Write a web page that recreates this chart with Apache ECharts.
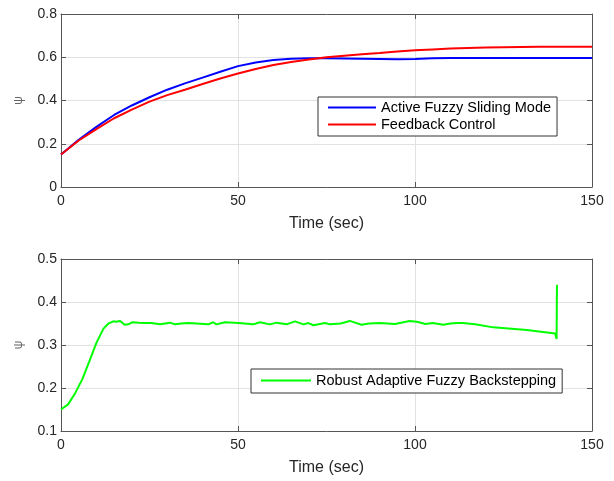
<!DOCTYPE html>
<html>
<head>
<meta charset="utf-8">
<script src="https://cdn.jsdelivr.net/npm/echarts@6/dist/echarts.min.js"></script>
<style>
html,body{margin:0;padding:0;background:#fff;}
#chart{width:614px;height:481px;}
</style>
</head>
<body>
<div id="chart"></div>
<script>
// ---- data ----
var tTop = [0,5,10,15,20,25,30,35,40,45,50,55,60,65,70,75,80,85,90,95,100,105,110,115,120,125,130,135,140,145,150];
var activeFuzzy = [0.150,0.218,0.278,0.333,0.377,0.415,0.450,0.479,0.506,0.533,0.559,0.576,0.587,0.593,0.595,0.595,0.594,0.593,0.592,0.591,0.592,0.595,0.596,0.596,0.596,0.596,0.597,0.597,0.597,0.597,0.597];
var feedback = [0.150,0.215,0.268,0.318,0.358,0.395,0.425,0.450,0.476,0.502,0.525,0.546,0.564,0.578,0.590,0.600,0.607,0.614,0.620,0.627,0.632,0.636,0.640,0.643,0.645,0.646,0.647,0.648,0.648,0.649,0.649];

var tGreen = [0,2,4,6,8,10,12,13.4,14.8,15.5,16.7,18,19,20.2,22,24,25.5,28,30.8,32.2,34,36,
  41.6,43.0,43.9,46.3,50.1,54.3,56.2,59.0,60.9,63.7,66.1,68.5,69.9,71.3,74.6,
  76,79,81.6,84.9,87,90,94.3,98.5,100.5,103,105,108,110,112,113.5,117,122.1,131.6,139.6,140.0,140.1];
var robustBackstep = [0.150,0.162,0.188,0.220,0.262,0.305,0.338,0.350,0.355,0.354,0.356,0.347,0.348,0.353,0.352,0.351,0.351,0.348,0.352,0.348,0.350,0.351,
  0.348,0.353,0.348,0.353,0.351,0.348,0.353,0.348,0.352,0.348,0.355,0.348,0.351,0.346,0.351,
  0.348,0.350,0.356,0.347,0.350,0.351,0.349,0.356,0.354,0.349,0.351,0.347,0.350,0.351,0.351,0.348,0.341,0.335,0.327,0.314,0.440];

var xTicks = [0,50,100,150];
var yTopTicks = [0,0.2,0.4,0.6,0.8];
var yBotTicks = [0.1,0.2,0.3,0.4,0.5];

function pairs(t, v){ return t.map(function(x,i){ return [x, v[i]]; }); }

var axisCol = '#555';
var txtCol = '#262626';
var font = 'Liberation Sans, Arial, sans-serif';

function mainX(gi){
  return {
    type:'value', gridIndex:gi, min:xTicks[0], max:xTicks[xTicks.length-1], interval:xTicks[1]-xTicks[0],
    axisLine:{show:true, onZero:false, lineStyle:{color:axisCol, width:1}},
    axisTick:{show:true, inside:true, length:5, lineStyle:{color:axisCol}},
    axisLabel:{color:txtCol, fontSize:14, fontFamily:font, margin:7},
    splitLine:{show:true, lineStyle:{color:'#e2e2e2', width:1}},
    name:'Time (sec)', nameLocation:'middle', nameGap:29,
    nameTextStyle:{color:txtCol, fontSize:16, fontFamily:font}
  };
}
function mirrorX(gi){
  return {
    type:'value', gridIndex:gi, position:'top', min:xTicks[0], max:xTicks[xTicks.length-1], interval:xTicks[1]-xTicks[0],
    axisLine:{show:true, onZero:false, lineStyle:{color:axisCol, width:1}},
    axisTick:{show:true, inside:true, length:5, lineStyle:{color:axisCol}},
    axisLabel:{show:false}, splitLine:{show:false}
  };
}
function mainY(gi, ticks){
  return {
    type:'value', gridIndex:gi, min:ticks[0], max:ticks[ticks.length-1], interval:Math.round((ticks[1]-ticks[0])*10)/10,
    axisLine:{show:true, onZero:false, lineStyle:{color:axisCol, width:1}},
    axisTick:{show:true, inside:true, length:5, lineStyle:{color:axisCol}},
    axisLabel:{color:txtCol, fontSize:14, fontFamily:font, margin:4,
      formatter:function(v){ return Math.abs(v)<1e-9 ? '0' : v.toFixed(1); }},
    splitLine:{show:true, lineStyle:{color:'#e2e2e2', width:1}},
    name:'ψ', nameLocation:'middle', nameGap:36, nameRotate:90,
    nameTextStyle:{color:'#666', fontSize:12, fontFamily:font}
  };
}
function mirrorY(gi, ticks){
  return {
    type:'value', gridIndex:gi, position:'right', min:ticks[0], max:ticks[ticks.length-1], interval:Math.round((ticks[1]-ticks[0])*10)/10,
    axisLine:{show:true, onZero:false, lineStyle:{color:axisCol, width:1}},
    axisTick:{show:true, inside:true, length:5, lineStyle:{color:axisCol}},
    axisLabel:{show:false}, splitLine:{show:false}
  };
}

var chart = echarts.init(document.getElementById('chart'), null, {renderer:'canvas'});
chart.setOption({
  backgroundColor:'#fff',
  animation:false,
  grid:[
    {left:61, top:14, width:531, height:173},
    {left:61, top:259, width:531, height:172}
  ],
  xAxis:[mainX(0), mirrorX(0), mainX(1), mirrorX(1)],
  yAxis:[mainY(0, yTopTicks), mirrorY(0, yTopTicks), mainY(1, yBotTicks), mirrorY(1, yBotTicks)],
  legend:[
    {data:['Active Fuzzy Sliding Mode','Feedback Control'], orient:'vertical', left:318, top:97,
     padding:[3,6,4,10], itemGap:2, itemWidth:48, itemHeight:2, icon:'rect',
     borderColor:'#333', borderWidth:1, backgroundColor:'#fff',
     textStyle:{color:'#000', fontSize:14.5, lineHeight:15, fontFamily:font}},
    {data:['Robust Adaptive Fuzzy Backstepping'], orient:'vertical', left:251, top:369,
     padding:[4,6,5,10], itemGap:2, itemWidth:50, itemHeight:2, icon:'rect',
     borderColor:'#333', borderWidth:1, backgroundColor:'#fff',
     textStyle:{color:'#000', fontSize:14.5, lineHeight:15, fontFamily:font}}
  ],
  series:[
    {name:'Active Fuzzy Sliding Mode', type:'line', xAxisIndex:0, yAxisIndex:0, symbol:'none',
     data:pairs(tTop, activeFuzzy), lineStyle:{color:'#0000ff', width:2}, itemStyle:{color:'#0000ff'}},
    {name:'Feedback Control', type:'line', xAxisIndex:0, yAxisIndex:0, symbol:'none',
     data:pairs(tTop, feedback), lineStyle:{color:'#ff0000', width:2}, itemStyle:{color:'#ff0000'}},
    {name:'Robust Adaptive Fuzzy Backstepping', type:'line', xAxisIndex:2, yAxisIndex:2, symbol:'none',
     data:pairs(tGreen, robustBackstep), lineStyle:{color:'#00ff00', width:2}, itemStyle:{color:'#00ff00'}}
  ]
});
</script>
</body>
</html>
